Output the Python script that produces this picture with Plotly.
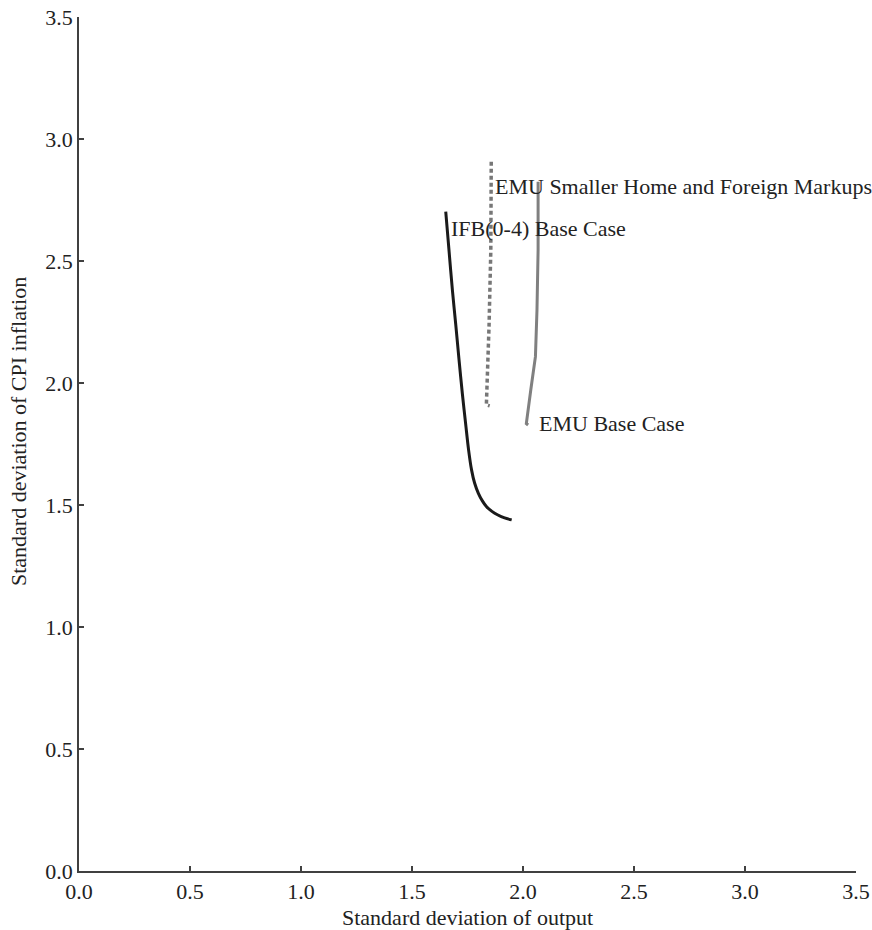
import plotly.graph_objects as go

# IFB(0-4) Base Case (black solid)
ifb_x = [1.652, 1.667, 1.682, 1.697, 1.712, 1.727, 1.743, 1.755, 1.768, 1.782, 1.799, 1.817, 1.836, 1.860, 1.887, 1.917, 1.949]
ifb_y = [2.702, 2.540, 2.381, 2.240, 2.094, 1.955, 1.821, 1.725, 1.645, 1.590, 1.548, 1.517, 1.493, 1.474, 1.459, 1.447, 1.439]

# EMU Smaller Home and Foreign Markups (gray dotted)
emus_x = [1.857, 1.855, 1.847, 1.839, 1.835, 1.835, 1.850]
emus_y = [2.907, 2.545, 2.231, 2.067, 1.944, 1.910, 1.906]

# EMU Base Case (gray solid)
emub_x = [2.068, 2.068, 2.063, 2.056, 2.035, 2.015, 2.023]
emub_y = [2.825, 2.545, 2.300, 2.108, 1.971, 1.834, 1.828]

labels = ["EMU Smaller Home and Foreign Markups", "IFB(0-4) Base Case", "EMU Base Case"]
label_x = [1.866, 1.668, 2.062]
label_y = [2.804, 2.633, 1.832]

tick_vals = [0.0, 0.5, 1.0, 1.5, 2.0, 2.5, 3.0, 3.5]
tick_text = ["0.0", "0.5", "1.0", "1.5", "2.0", "2.5", "3.0", "3.5"]

FONT = "Liberation Serif"
fig = go.Figure()
fig.add_trace(go.Scatter(x=ifb_x, y=ifb_y, mode="lines",
                         line=dict(color="#1a1a1a", width=3, shape="spline", smoothing=0.8),
                         showlegend=False))
fig.add_trace(go.Scatter(x=emus_x, y=emus_y, mode="lines",
                         line=dict(color="#777777", width=3.5, dash="4px,3px"),
                         showlegend=False))
fig.add_trace(go.Scatter(x=emub_x, y=emub_y, mode="lines",
                         line=dict(color="#808080", width=3),
                         showlegend=False))

for t, x, y in zip(labels, label_x, label_y):
    fig.add_annotation(x=x, y=y, text=t, showarrow=False, xanchor="left",
                       yanchor="middle", font=dict(family=FONT, size=22, color="#222222"))

fig.add_annotation(xref="paper", yref="paper", x=0.5, y=0, yshift=-46,
                   text="Standard deviation of output", showarrow=False,
                   xanchor="center", yanchor="middle",
                   font=dict(family=FONT, size=22, color="#222222"))
fig.add_annotation(xref="paper", yref="paper", x=0, xshift=-61, y=0.514,
                   text="Standard deviation of CPI inflation", showarrow=False,
                   textangle=-90, xanchor="center", yanchor="middle",
                   font=dict(family=FONT, size=22, color="#222222"))

axis_common = dict(range=[0, 3.5], tickmode="array", tickvals=tick_vals, ticktext=tick_text,
                   ticks="inside", ticklen=5, tickwidth=1.5, tickcolor="#404040",
                   showline=True, linecolor="#404040", linewidth=1.5,
                   showgrid=False, zeroline=False, mirror=False, automargin=False,
                   tickfont=dict(family=FONT, size=22, color="#222222"))
fig.update_xaxes(**axis_common)
fig.update_yaxes(**axis_common)

fig.update_layout(width=872, height=930, margin=dict(l=79, r=16, t=17, b=59, autoexpand=False),
                  plot_bgcolor="white", paper_bgcolor="white", showlegend=False)

fig.write_html("out.html")
